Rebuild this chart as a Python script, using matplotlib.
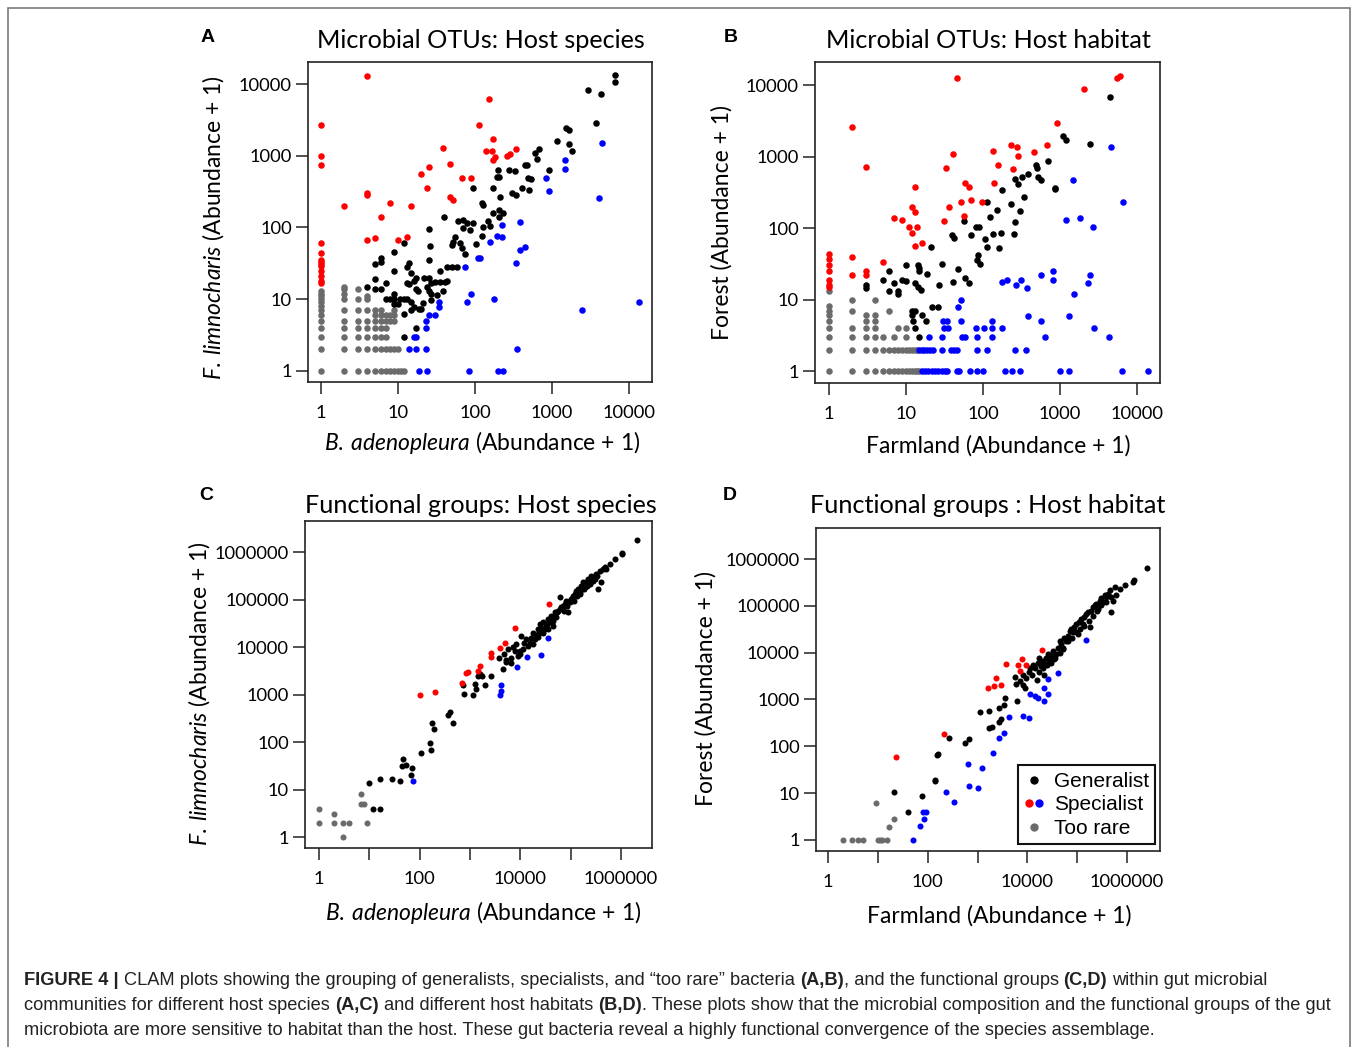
import matplotlib
matplotlib.use('Agg')
import matplotlib.pyplot as plt
import matplotlib.ticker as mticker
from matplotlib.lines import Line2D
from matplotlib.legend_handler import HandlerTuple
from matplotlib.patches import Rectangle

# ---------------------------------------------------------------- data
COL_GEN, COL_RED, COL_BLUE, COL_RARE = '#000000', '#ff0000', '#0000ff', '#6b6b6b'

# Panel A : Microbial OTUs, host species (x = B. adenopleura, y = F. limnocharis)
A_rare_cols = {1: [1, 2, 3, 4, 5, 6, 7, 8, 9, 10, 11, 12, 13],
               2: [1, 2, 3, 4, 5, 7, 10, 12, 14, 15],
               3: [1, 2, 3, 4, 5, 7, 10, 14],
               4: [1, 2, 3, 4, 5, 7, 10, 11],
               5: [1, 2, 3, 4, 5, 6, 7],
               6: [1, 2, 3, 4, 5, 6, 7],
               7: [1, 2, 3, 4, 5, 6],
               8: [1, 2, 5, 6],
               9: [1, 2, 5, 6, 7],
               10: [1, 2], 11: [1], 12: [1]}
A_generalist = [(6650, 13200), (6650, 10800), (2940, 8200), (4330, 7200), (3690, 2900), (1500, 2400),
                (1650, 2280), (1150, 1600), (1650, 1450), (1800, 1170), (670, 1260), (600, 1080), (630, 910),
                (905, 630), (446, 740), (469, 740), (280, 630), (330, 610), (200, 630), (191, 500), (207, 500),
                (483, 483), (529, 470), (412, 358), (508, 332), (302, 305), (341, 283), (173, 350), (95, 350),
                (213, 268), (123, 216), (128, 205), (170, 160), (207, 175), (229, 157), (207, 138), (40, 141),
                (61, 122), (70, 127), (78, 114), (93, 114), (70, 99), (86, 92), (128, 102), (146, 122),
                (157, 105), (123, 76), (25, 95), (55, 74), (52, 63), (50, 57), (64, 60), (67, 51), (74, 43),
                (102, 58), (26, 55), (12, 60), (9, 46), (6, 37), (6, 33), (5, 31), (14, 32), (13, 28), (9, 25),
                (15, 23), (25, 35), (35, 25), (43, 28), (50, 28), (58, 28), (5, 19), (7, 17), (13, 17), (17, 20),
                (16, 18), (22, 20), (25, 20), (27, 17), (30, 17.5), (35, 17.5), (41, 17.5), (43, 18), (4, 15),
                (5, 14), (6, 14), (17, 14), (18, 13), (24, 15), (25, 13), (27, 12), (38, 13), (32, 11.5),
                (14, 16.5), (9, 12), (7, 10), (8, 10), (9, 10), (10.6, 10), (12, 10), (13, 10), (9, 8.7),
                (10, 8.5), (15, 9.2), (16, 7.8), (19, 7.2), (20, 7.2), (21, 8.9), (27, 9.8), (12, 6.3), (15, 7),
                (17, 4), (12, 3)]
A_spec_red = [(4, 13000), (150, 6100), (1, 2700), (114, 2650), (173, 1730), (1, 990), (1, 740), (39, 1270),
              (138, 1175), (167, 1175), (182, 970), (173, 870), (258, 990), (283, 1045), (340, 1260), (25, 700),
              (48, 765), (20, 550), (67, 483), (90, 483), (24, 360), (4, 300), (4, 280), (48, 268), (52, 240),
              (2, 200), (8, 219), (15, 200), (6, 138), (4, 67), (5, 72), (10, 67), (13, 74), (1, 60), (1, 44),
              (1, 35), (1, 33), (1, 31), (1, 29), (1, 25), (1, 21), (1, 18), (1, 17)]
A_spec_blue = [(4500, 1520), (1475, 870), (1475, 650), (830, 483), (915, 320), (4040, 260), (384, 120),
               (222, 108), (191, 76), (222, 74), (157, 62), (384, 48), (450, 53), (110, 38), (117, 38),
               (344, 32), (74, 28), (88, 12), (78, 9), (177, 10), (34, 9), (34, 7.8), (13600, 9), (2430, 7),
               (25, 6), (30, 6), (23, 5), (23, 4), (17, 3), (16, 3), (14, 2), (17, 2), (23, 2), (355, 2),
               (19, 1), (24, 1), (84, 1), (197, 1), (233, 1)]

# Panel B : Microbial OTUs, host habitat (x = Farmland, y = Forest)
B_rare_cols = {1: [1, 2, 3, 4, 5, 6, 7, 8, 13], 2: [1, 2, 3, 4, 7, 10], 3: [1, 2, 3, 4, 5, 6],
               4: [1, 2, 3, 4, 5, 6, 10], 5: [1, 2, 3], 6: [1, 2, 7], 7: [1, 2, 3], 8: [1, 2, 4],
               9: [1, 2], 10: [1, 2, 3, 4], 11: [1, 2], 12: [1, 2], 13: [1, 2], 14: [1, 2], 15: [1]}
B_generalist = [(4500, 6900), (1110, 1940), (1200, 1710), (2430, 1520), (690, 870), (486, 765), (500, 690),
                (390, 570), (320, 510), (289, 411), (262, 480), (511, 520), (570, 468), (867, 350), (870, 360),
                (179, 339), (346, 268), (114, 235), (151, 180), (232, 216), (304, 175), (124, 141), (57, 124),
                (81, 102), (89, 105), (262, 120), (70, 80), (137, 82), (171, 85), (254, 82), (107, 70), (40, 81),
                (42, 72), (114, 55), (164, 52), (21, 54), (86, 42), (83, 36), (92, 31), (29, 31), (10, 30),
                (14.5, 30), (15, 25), (15, 28), (6, 25), (19, 23), (48, 27), (5, 19), (9, 19), (10, 18), (13, 17),
                (59, 20), (65, 17), (41, 17.5), (27, 16), (7, 17), (3, 16), (3, 14.5), (6, 13), (8, 13), (8, 12),
                (14.5, 15), (15.5, 13.4), (22, 7.8), (26, 7.8), (12, 7), (13, 7), (12, 6), (12.5, 5), (16, 6),
                (18, 5), (13, 4), (15, 3)]
B_spec_red = [(46, 12600), (5500, 12400), (5950, 13400), (2070, 8800), (2, 2600), (910, 2900), (3, 725),
              (41, 1100), (33, 700), (137, 1200), (230, 1450), (275, 1370), (281, 1020), (454, 1175),
              (676, 1440), (159, 765), (242, 666), (140, 420), (58, 425), (66, 369), (13, 370), (36, 194),
              (52, 235), (70, 246), (98, 235), (57, 149), (12, 194), (13, 169), (7, 136), (9, 131), (31, 124),
              (11, 102), (14, 105), (12, 85), (13, 56), (16, 61), (5, 34), (2, 39), (2, 22), (3, 25), (3, 22),
              (1, 44), (1, 37), (1, 30), (1, 25), (1, 19), (1, 16), (1, 15)]
B_spec_blue = [(4600, 1380), (1470, 468), (6500, 235), (1200, 131), (1800, 136), (2650, 105), (176, 17.5),
               (204, 19), (270, 16), (313, 19), (371, 14.5), (565, 22), (810, 25), (810, 19), (2430, 22),
               (2300, 17), (1530, 12), (52, 9.7), (47, 7.8), (30, 5), (34, 5), (52, 5), (130, 5), (31, 4),
               (35, 4), (81, 4), (104, 4), (130, 4), (176, 4), (379, 5.9), (565, 5), (1294, 5.9), (2735, 4),
               (630, 3), (4370, 3), (20, 3), (29, 3), (53, 3), (59, 3), (83, 3), (130, 3),
               (15, 2), (16, 2), (17, 2), (18.6, 2), (20.6, 2), (22.7, 2), (29, 2), (39, 2), (42, 2), (46, 2),
               (83, 2), (112, 2), (262, 2), (360, 2),
               (16, 1), (17.7, 1), (19.6, 1), (21.6, 1), (23.9, 1), (26, 1), (29, 1), (32, 1), (34.5, 1),
               (46, 1), (49.5, 1), (68, 1), (83, 1), (101, 1), (194, 1), (237, 1), (304, 1), (988, 1),
               (1294, 1), (6380, 1), (13770, 1)]

# Panel C : Functional groups, host species
C_rare = [(1, 4), (1, 2), (2, 3), (2, 2), (3, 2), (4, 2), (3, 1), (7, 8), (7, 5), (8, 5), (9, 2)]
C_generalist = [(12, 4), (16, 4), (10, 13.5), (16, 17), (28, 17), (40, 15), (46, 45), (44, 32), (53, 33),
                (72, 28), (66, 20), (105, 58), (166, 68), (164, 95), (180, 250), (194, 186), (367, 377),
                (408, 422), (461, 250), (727, 1625), (750, 1050), (1150, 1000), (1240, 1708), (1340, 1316),
                (1955, 1625), (1440, 2440), (1560, 2650), (1760, 2440), (2650, 2440), (3780, 5970),
                (4520, 3380), (5100, 4830), (6410, 4670),
                (4660, 7020), (5680, 8960), (7130, 10200), (8300, 11400), (8960, 6470), (9670, 8260),
                (10400, 17100), (11600, 12400), (13100, 14600), (15300, 12400), (16500, 15800), (17800, 20200),
                (20700, 17700), (22300, 23700), (24100, 30300), (26000, 25700), (28100, 32900), (30300, 23700),
                (32700, 27900), (35300, 38700), (38000, 32900), (41000, 45500), (44300, 27900), (47800, 53500),
                (51500, 41900), (55700, 58000), (60100, 111000), (64900, 68200), (70000, 74000),
                (75500, 80300), (81500, 94500), (87900, 53500), (94800, 87100), (102000, 102000),
                (110000, 121000), (119000, 131000), (129000, 154000), (139000, 167000), (150000, 142000),
                (161000, 196000), (174000, 231000), (188000, 181000), (203000, 231000), (219000, 272000),
                (236000, 213000), (255000, 320000), (275000, 250000), (297000, 272000), (320000, 347000),
                (346000, 167000), (373000, 408000), (403000, 231000), (434000, 443000), (469000, 480000),
                (506000, 443000), (589000, 565000), (740000, 697000), (1050000, 964000), (1050000, 889000),
                (2050000, 1820000),
                (19200, 14600), (23400, 20200), (27200, 23700), (33700, 30300), (39200, 39900), (45700, 44000),
                (53200, 53500), (61900, 63000), (72100, 58000), (83900, 74000), (97700, 92900),
                (114000, 94500), (133000, 121000), (154000, 131000), (180000, 167000), (209000, 196000),
                (244000, 272000), (284000, 295000), (330000, 320000), (44300, 35600), (35300, 23700),
                (28100, 20200), (22300, 16600), (17800, 11400), (14200, 10500), (11300, 8960), (9670, 7020),
                (7700, 8260), (6610, 5970), (5260, 5320)]
C_spec_red = [(100, 1000), (205, 1120), (700, 1760), (850, 2870), (900, 2970), (1440, 3110), (1600, 3970),
              (2650, 7600), (2650, 6250), (3880, 9400), (4870, 12000), (7940, 25700), (36900, 80300)]
C_spec_blue = [(74, 15), (3880, 1000), (4190, 1175), (4060, 1575), (8690, 3790), (13500, 6260),
               (26000, 6790), (35300, 15300)]

# Panel D : Functional groups, host habitat
D_rare = [(2, 1), (3, 1), (4, 1), (5, 1), (10, 1), (11, 1), (12, 1), (15, 1), (9, 6), (21, 2.8), (17, 1.9)]
D_generalist = [(21, 10.5), (40, 4), (75, 8.6), (137, 19), (140, 18), (160, 69), (155, 66), (263, 150),
                (570, 117), (660, 140), (1120, 547), (1730, 574), (1730, 246), (1950, 259), (2740, 332),
                (2970, 392), (2740, 645), (3350, 762), (3560, 1060), (6120, 930),
                (5750, 2970), (5930, 2130), (7140, 2430), (8090, 2060), (9150, 1750), (15500, 2640),
                (9440, 2870), (10700, 3870), (11400, 4720), (12800, 5400), (14500, 4720), (16200, 6060),
                (17500, 7510), (18900, 5130), (20400, 6580), (22000, 5770), (23800, 7770), (25700, 9180),
                (27800, 6580), (30000, 8440), (32400, 10800), (35000, 7150), (37800, 9180), (40800, 12800),
                (44200, 17800), (47700, 15100), (51500, 11800), (55600, 21000), (60100, 17800), (64900, 22800),
                (70100, 29300), (75700, 31800), (81800, 27000), (88300, 34600), (95500, 40800),
                (103000, 24800), (111000, 44400), (120000, 52300), (130000, 40800), (140000, 56800),
                (152000, 67100), (164000, 72900), (177000, 34600), (191000, 79300), (206000, 93500),
                (223000, 102000), (241000, 110000), (260000, 86100), (281000, 130000), (304000, 144000),
                (328000, 120000), (355000, 167000), (383000, 154000), (414000, 182000), (447000, 214000),
                (483000, 72900), (521000, 130000), (563000, 253000), (608000, 167000), (710000, 233000),
                (895000, 275000), (1310000, 325000), (1360000, 353000), (2520000, 631000),
                (20400, 4720), (24500, 5400), (30000, 6060), (36600, 7770), (44200, 9970), (53100, 12800),
                (64900, 17800), (79300, 21000), (95500, 27000), (115000, 31800), (140000, 37600),
                (172000, 48200), (206000, 61800), (248000, 79300), (304000, 102000), (383000, 120000),
                (483000, 154000), (17500, 3870), (22000, 3390), (12400, 3390), (8090, 3390)]
D_spec_red = [(23, 60), (215, 186), (1600, 1800), (2180, 1900), (2970, 2060), (2360, 2870), (3735, 5770),
              (6410, 5400), (7140, 4000), (7830, 7150), (9440, 5400), (19500, 11200)]
D_spec_blue = [(51, 1), (71, 1.94), (85, 2.8), (79, 4), (92, 4), (232, 10.5), (342, 6.6), (663, 14),
               (1000, 13), (634, 42), (1210, 35), (2050, 72), (2660, 150), (3350, 195), (4360, 426),
               (8340, 433), (10660, 405), (11500, 1300), (14500, 1170), (16700, 1100), (22000, 1750),
               (26500, 1300), (22000, 930), (26500, 2780), (40800, 3680), (152000, 18700)]

otu_ticks = [1, 10, 100, 1000, 10000]
otu_labels = ['1', '10', '100', '1000', '10000']
fg_ticks = [1, 10, 100, 1000, 10000, 100000, 1000000]
fg_xlabels = ['1', '', '100', '', '10000', '', '1000000']
fg_ylabels = ['1', '10', '100', '1000', '10000', '100000', '1000000']

legend_labels = ['Generalist', 'Specialist', 'Too rare']

# ---------------------------------------------------------------- figure
W, H = 1358, 1047
plt.rcParams['font.family'] = ['Lato', 'DejaVu Sans']
plt.rcParams['mathtext.fontset'] = 'custom'
plt.rcParams['mathtext.it'] = 'Lato:italic'
plt.rcParams['mathtext.rm'] = 'Lato'

fig = plt.figure(figsize=(W / 100, H / 100), dpi=100)


def fx(x):
    return x / W


def fy(y):
    return 1 - y / H


def rect(l, t, r, b):
    return [l / W, 1 - b / H, (r - l) / W, (b - t) / H]


def cols_to_points(cols):
    return [(x, y) for x, ys in cols.items() for y in ys]


def panel(box, xlim, ylim, xt, xtl, yt, ytl, rare, gen, red, blue, ms):
    ax = fig.add_axes(rect(*box))
    ax.set_xscale('log')
    ax.set_yscale('log')
    for pts, col in ((rare, COL_RARE), (gen, COL_GEN), (red, COL_RED), (blue, COL_BLUE)):
        xs, ys = zip(*pts)
        ax.scatter(xs, ys, s=ms, c=col, linewidths=0, zorder=3, clip_on=False)
    ax.set_xlim(*xlim)
    ax.set_ylim(*ylim)
    ax.xaxis.set_major_locator(mticker.FixedLocator(xt))
    ax.yaxis.set_major_locator(mticker.FixedLocator(yt))
    ax.xaxis.set_minor_locator(mticker.NullLocator())
    ax.yaxis.set_minor_locator(mticker.NullLocator())
    ax.set_xticklabels(xtl)
    ax.set_yticklabels(ytl)
    ax.tick_params(direction='out', length=8.5, width=1.1, labelsize=13.2, color='#222222')
    ax.tick_params(axis='x', pad=8)
    ax.tick_params(axis='y', pad=3)
    for s in ax.spines.values():
        s.set_linewidth(1.2)
        s.set_color('#222222')
    return ax


axA = panel((308, 62, 652, 382), (0.68, 19900), (0.70, 20300), otu_ticks, otu_labels, otu_ticks, otu_labels,
            cols_to_points(A_rare_cols), A_generalist, A_spec_red, A_spec_blue, 22)
axB = panel((815, 62, 1160, 383), (0.66, 19900), (0.68, 21000), otu_ticks, otu_labels, otu_ticks, otu_labels,
            cols_to_points(B_rare_cols), B_generalist, B_spec_red, B_spec_blue, 22)
axC = panel((305, 521, 652, 848), (0.53, 4.1e6), (0.59, 4.5e6), fg_ticks, fg_xlabels, fg_ticks, fg_ylabels,
            C_rare, C_generalist, C_spec_red, C_spec_blue, 19)
axD = panel((816, 528, 1160, 851), (0.57, 4.6e6), (0.58, 4.6e6), fg_ticks, fg_xlabels, fg_ticks, fg_ylabels,
            D_rare, D_generalist, D_spec_red, D_spec_blue, 19)

# legend in D
h_gen = Line2D([], [], ls='none', marker='o', ms=6, mfc=COL_GEN, mec='none')
h_red = Line2D([], [], ls='none', marker='o', ms=6, mfc=COL_RED, mec='none')
h_blue = Line2D([], [], ls='none', marker='o', ms=6, mfc=COL_BLUE, mec='none')
h_rare = Line2D([], [], ls='none', marker='o', ms=6, mfc=COL_RARE, mec='none')
leg = axD.legend([h_gen, (h_red, h_blue), h_rare], legend_labels,
                 handler_map={tuple: HandlerTuple(ndivide=None, pad=0.0)},
                 loc='lower right', bbox_to_anchor=(fx(1155), fy(844)), bbox_transform=fig.transFigure,
                 borderaxespad=0, frameon=True, fancybox=False, framealpha=1, edgecolor='#111111',
                 prop={'family': 'Liberation Sans', 'size': 15}, handlelength=0.95, handletextpad=0.45,
                 labelspacing=0.22, borderpad=0.3, handleheight=0.6)
leg.get_frame().set_linewidth(1.5)

# titles, panel letters, axis labels
title_kw = dict(ha='center', va='center', fontsize=18.2)
fig.text(fx(481), fy(40), 'Microbial OTUs: Host species', **title_kw)
fig.text(fx(988), fy(40), 'Microbial OTUs: Host habitat', **title_kw)
fig.text(fx(481), fy(505), 'Functional groups: Host species', **title_kw)
fig.text(fx(988), fy(505), 'Functional groups : Host habitat', **title_kw)

let_kw = dict(ha='center', va='center', fontsize=14, fontweight='bold', family='Liberation Sans')
fig.text(fx(208), fy(37), 'A', **let_kw)
fig.text(fx(731), fy(37), 'B', **let_kw)
fig.text(fx(206), fy(496), 'C', **let_kw)
fig.text(fx(730), fy(496), 'D', **let_kw)

lab_kw = dict(ha='center', va='center', fontsize=16.5)
fig.text(fx(482), fy(443), r'$\mathit{B.\:adenopleura}$ (Abundance + 1)', **lab_kw)
fig.text(fx(998), fy(446), 'Farmland (Abundance + 1)', **lab_kw)
fig.text(fx(483), fy(913), r'$\mathit{B.\:adenopleura}$ (Abundance + 1)', **lab_kw)
fig.text(fx(999), fy(916), 'Farmland (Abundance + 1)', **lab_kw)
fig.text(fx(213), fy(228), r'$\mathit{F.\:limnocharis}$ (Abundance + 1)', rotation=90, **lab_kw)
fig.text(fx(722), fy(222), 'Forest (Abundance + 1)', rotation=90, **lab_kw)
fig.text(fx(199), fy(694), r'$\mathit{F.\:limnocharis}$ (Abundance + 1)', rotation=90, **lab_kw)
fig.text(fx(706), fy(688), 'Forest (Abundance + 1)', rotation=90, **lab_kw)

# outer frame
fig.patches.append(Rectangle((fx(8), fy(1070)), (1350 - 8) / W, (1070 - 8) / H, transform=fig.transFigure,
                             fill=False, edgecolor='#7a7a7a', linewidth=1.2))

# caption with mixed bold/regular runs
caption_lines = [
    [('FIGURE 4 |', True), (' CLAM plots showing the grouping of generalists, specialists, and \u201ctoo rare\u201d bacteria ', False),
     ('(A,B)', True), (', and the functional groups ', False), ('(C,D)', True), (' within gut microbial', False)],
    [('communities for different host species ', False), ('(A,C)', True), (' and different host habitats ', False),
     ('(B,D)', True), ('. These plots show that the microbial composition and the functional groups of the gut', False)],
    [('microbiota are more sensitive to habitat than the host. These gut bacteria reveal a highly functional '
      'convergence of the species assemblage.', False)],
]
cap_size = 13.12
renderer = fig.canvas.get_renderer()


def text_width(s, bold):
    t = fig.text(0, 0, s, fontsize=cap_size, family='Liberation Sans', fontweight='bold' if bold else 'normal')
    w = t.get_window_extent(renderer).width
    t.remove()
    return w


space_w = {b: text_width('a a', b) - text_width('aa', b) for b in (True, False)}
for i, pieces in enumerate(caption_lines):
    x = 24
    y = 985 + 25 * i
    for s, bold in pieces:
        lead = len(s) - len(s.lstrip(' '))
        trail = len(s) - len(s.rstrip(' '))
        core = s.strip(' ')
        x += lead * space_w[bold]
        t = fig.text(fx(x), fy(y), core, fontsize=cap_size, family='Liberation Sans',
                     fontweight='bold' if bold else 'normal', va='baseline', ha='left', color='#222222')
        x += t.get_window_extent(renderer).width + trail * space_w[bold]

fig.savefig('out.png', dpi=100)
